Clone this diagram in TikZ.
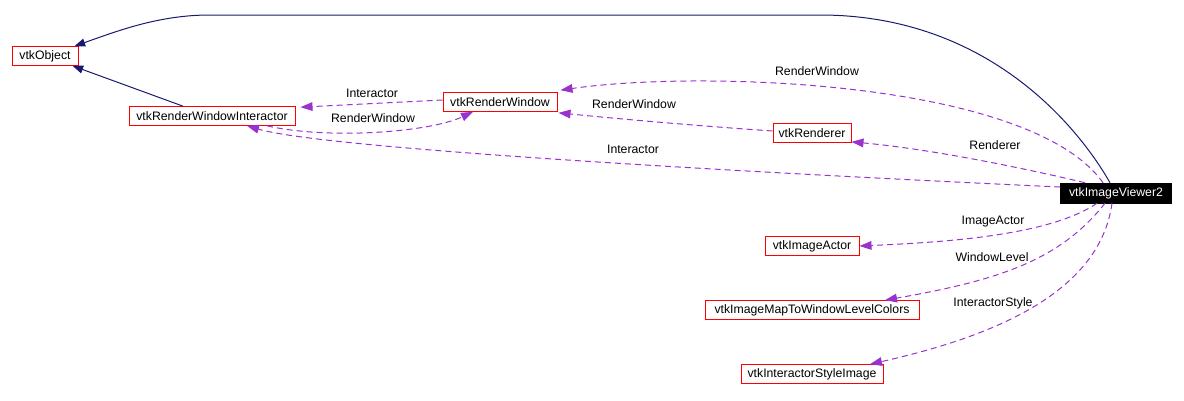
\documentclass[tikz,border=0pt]{standalone}
\usepackage{fontspec}
\setmainfont{Liberation Sans}
\usetikzlibrary{arrows.meta, positioning, calc}
\definecolor{dxnavy}{HTML}{191970}
\definecolor{dxpurple}{HTML}{9A32CD}
\definecolor{dxred}{HTML}{FF0000}

\begin{document}
\begin{tikzpicture}[
  x=0.75pt, y=-0.75pt,
  every node/.style={font=\fontsize{9.2}{11}\selectfont},
  classbox/.style={rectangle, draw=dxred, line width=0.75pt, minimum width=#1, minimum height=14pt, inner sep=1pt},
  focusbox/.style={rectangle, draw=black, fill=black, text=white, minimum width=#1, minimum height=15pt, inner sep=1pt},
  inherit/.style={draw=dxnavy, line width=0.75pt, -{Triangle[length=8pt, width=6pt]}},
  uses/.style={draw=dxpurple, line width=0.75pt, dash pattern=on 4.5pt off 3pt, -{Triangle[length=9pt, width=6.5pt]}},
  edgelabel/.style={inner sep=0pt, text=black},
]
\useasboundingbox (0,0) rectangle (1184,400);

% Class nodes
\node[classbox=49.5pt] (obj) at (45, 56) {vtkObject};
\node[classbox=124.5pt] (rwi) at (212, 116) {vtkRenderWindowInteractor};
\node[classbox=85.5pt] (rw) at (500, 102) {vtkRenderWindow};
\node[classbox=58.5pt] (ren) at (812, 133) {vtkRenderer};
\node[focusbox=83.25pt] (iv) at (1116, 193) {vtkImageViewer2};
\node[classbox=70.5pt] (actor) at (812, 246) {vtkImageActor};
\node[classbox=160.5pt] (wl) at (812, 310) {vtkImageMapToWindowLevelColors};
\node[classbox=106.5pt] (style) at (812, 374) {vtkInteractorStyleImage};

% Inheritance
\draw[inherit] ($(iv.north)+(-6,0)$) .. controls (1080,130) and (990,15) .. (820,15)
  -- (210,15) .. controls (160,15) and (120,30) .. ($(obj.north east)+(-4,0)$);
\draw[inherit] ($(rwi.north)+(-29,0)$) -- ($(obj.south east)+(-6,0)$);

% Usage relations
\draw[uses] ($(rw.west)+(0,-2)$) -- ($(rwi.north east)+(5,1)$);
\node[edgelabel] (lblRwiA) at (372, 93) {Interactor};

\draw[uses] ($(rwi.south)+(55,0)$) .. controls (330,140) and (430,132) .. ($(rw.south)+(-27,0)$);
\node[edgelabel] (lblRwA) at (373, 118) {RenderWindow};

\draw[uses] ($(ren.west)+(0,-2)$) .. controls (700,126) and (620,119) .. ($(rw.south east)+(1,1)$);
\node[edgelabel] (lblRwB) at (634, 104) {RenderWindow};

\draw[uses] ($(iv.north)+(-13,0)$) .. controls (1030,80) and (700,70) .. ($(rw.north east)+(3,-2)$);
\node[edgelabel] (lblRwC) at (817, 71) {RenderWindow};

\draw[uses] ($(iv.north)+(-31,0)$) .. controls (1040,172) and (940,150) .. ($(ren.south east)+(0,-1)$);
\node[edgelabel] (lblRen) at (995, 145) {Renderer};

\draw[uses] ($(iv.west)+(0,-6)$) .. controls (800,175) and (330,150) .. ($(rwi.south)+(35,0)$);
\node[edgelabel] (lblRwiB) at (633, 149) {Interactor};

\draw[uses] ($(iv.south)+(-19,0)$) .. controls (1050,235) and (950,242) .. (actor.east);
\node[edgelabel] (lblActor) at (993, 222) {ImageActor};

\draw[uses] ($(iv.south)+(-11,0)$) .. controls (1060,260) and (1000,280) .. ($(wl.north)+(73,0)$);
\node[edgelabel] (lblWl) at (992, 257) {WindowLevel};

\draw[uses] ($(iv.south)+(-4,0)$) .. controls (1100,290) and (1000,335) .. ($(style.north)+(58,0)$);
\node[edgelabel] (lblStyle) at (993, 303) {InteractorStyle};

\end{tikzpicture}
\end{document}
